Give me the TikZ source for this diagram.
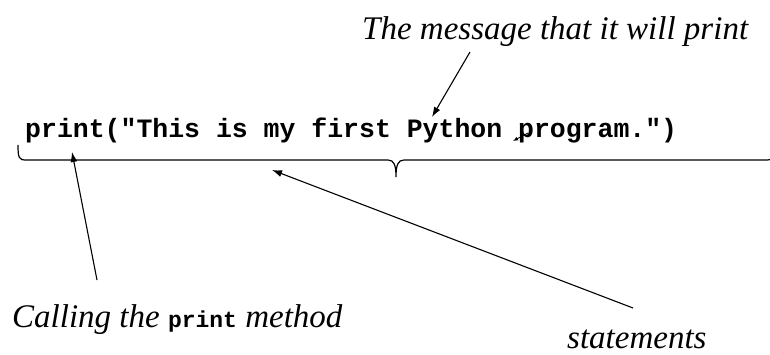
\documentclass[tikz,border=0pt]{standalone}
\usepackage{fontspec}
\setmainfont{Liberation Serif}
\setmonofont{Liberation Mono}
\usetikzlibrary{arrows.meta}
\begin{document}
\begin{tikzpicture}[x=1pt,y=-1pt,
  lbl/.style={anchor=base west,inner sep=0pt,font=\fontsize{33}{38}\selectfont\itshape},
  codetxt/.style={anchor=base west,inner sep=0pt,font=\fontsize{26.5}{30}\selectfont\ttfamily\bfseries},
  pointer/.style={line width=1.1pt,-{Latex[length=10pt,width=7pt]}}]
\useasboundingbox (0,0) rectangle (770,355);
\clip (0,0) rectangle (770,355);
\node[lbl] (msg) at (362,40) {The message that it will print};
\node[codetxt] (code) at (25,138) {print("This is my first Python program.")};
\node[lbl] (call) at (12,327) {Calling the {\fontsize{23}{26}\selectfont\ttfamily\bfseries\upshape print} method};
\node[lbl] (stmt) at (567,348) {statements};
\coordinate (msgfrom) at (470,52);
\coordinate (msgto) at (432,117);
\coordinate (callfrom) at (97,280);
\coordinate (callto) at (72,152);
\coordinate (stmtfrom) at (633,308);
\coordinate (stmtto) at (272,170);
\coordinate (smallfrom) at (528,133);
\coordinate (smallto) at (513,141);
\draw[pointer] (msgfrom) -- (msgto);
\draw[pointer] (callfrom) -- (callto);
\draw[pointer] (stmtfrom) -- (stmtto);
\draw[line width=0.8pt,-{Latex[length=5pt,width=4pt]}] (smallfrom) -- (smallto);
\draw[line width=1.2pt] (18,145) .. controls (18,158) and (19,160) .. (26,160) -- (388,160)
  .. controls (394,160) and (396,165) .. (396,177)
  .. controls (396,165) and (398,160) .. (404,160) -- (766,160)
  .. controls (773,160) and (774,158) .. (774,145);
\end{tikzpicture}
\end{document}
